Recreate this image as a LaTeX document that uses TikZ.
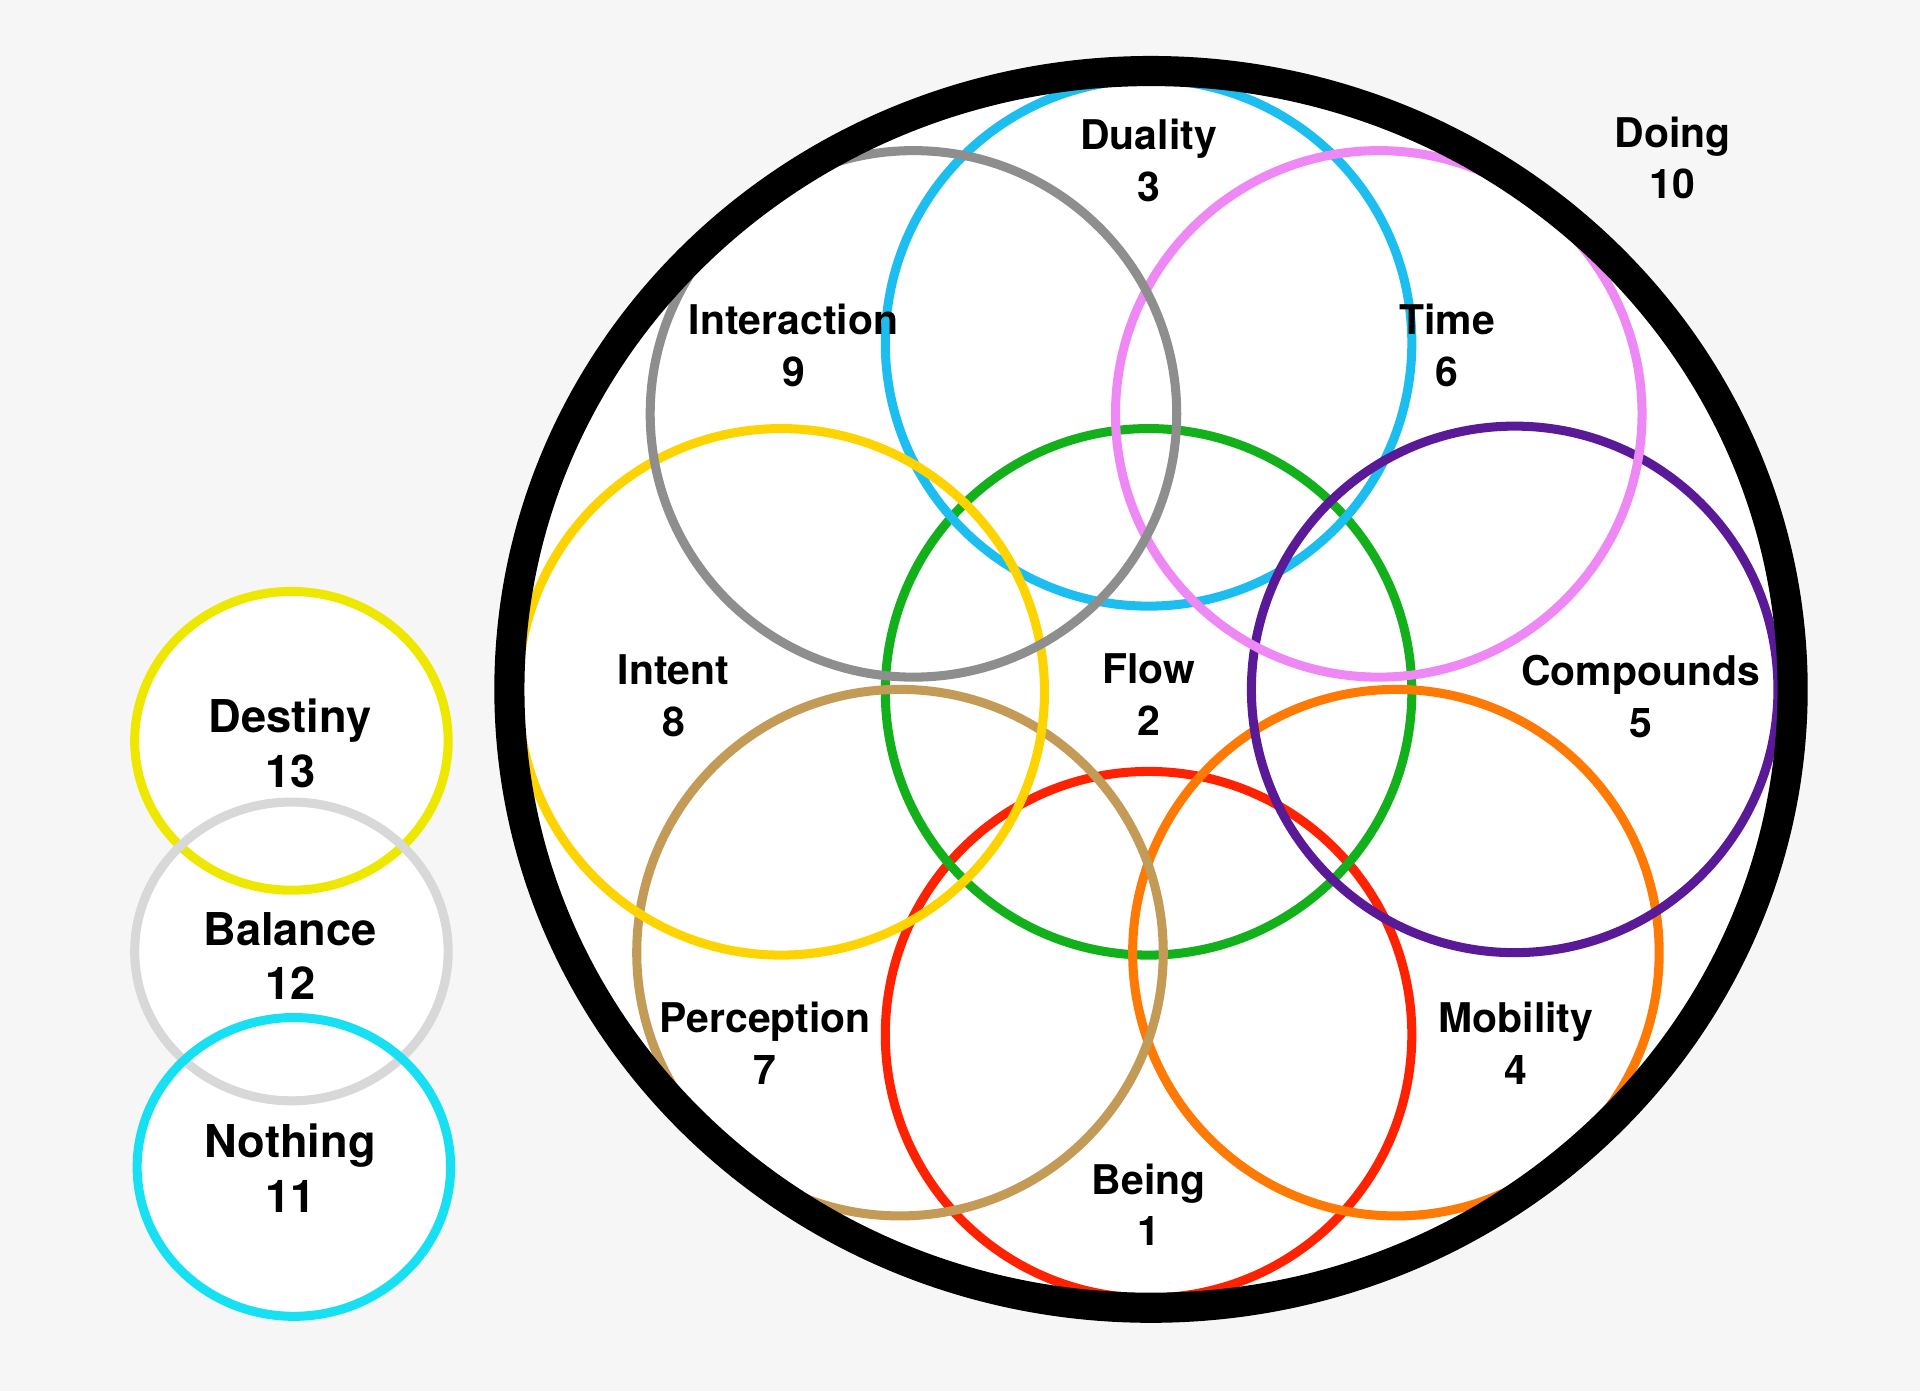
\documentclass[tikz,border=0pt]{standalone}
\usepackage{fontspec}
\setmainfont{TeX Gyre Heros}
\usepackage{tikz}
\definecolor{pageGray}{HTML}{F6F6F6}
\definecolor{dualityBlue}{HTML}{1CBEF0}
\definecolor{interactionGray}{HTML}{8E8E8E}
\definecolor{timePink}{HTML}{EE88F4}
\definecolor{intentGold}{HTML}{FDD300}
\definecolor{flowGreen}{HTML}{12B01A}
\definecolor{compoundsPurple}{HTML}{5A1A98}
\definecolor{perceptionTan}{HTML}{C39B56}
\definecolor{mobilityOrange}{HTML}{FF7A05}
\definecolor{beingRed}{HTML}{FF2200}
\definecolor{destinyYellow}{HTML}{EEE800}
\definecolor{balanceGray}{HTML}{D8D8D8}
\definecolor{nothingCyan}{HTML}{16E0F2}
\tikzset{
   petal/.style={draw=#1, line width=2.1pt},
   ring/.style={draw=black, line width=7pt},
   word/.style={font=\bfseries\fontsize{9.5}{12}\selectfont, align=center, inner sep=0pt},
   bigword/.style={font=\bfseries\fontsize{10.5}{12.6}\selectfont, align=center, inner sep=0pt},
    }
\begin{document}
\begin{tikzpicture}[x=0.01cm,y=-0.01cm]
        \fill[pageGray] (0,0) rectangle (1568,1136);
        \useasboundingbox (0,0) rectangle (1568,1136);

        % big circle
            \def \rx{524}
            \def \ry{505}
            \fill[white] (940,563) ellipse [x radius=\rx, y radius=\ry];
        % petals
        \foreach \cx/\cy/\col in {938/845/beingRed, 938/565/flowGreen, 938/280/dualityBlue,
            1140/778/mobilityOrange, 1237/563/compoundsPurple, 1126/338/timePink,
            735/778/perceptionTan, 638/565/intentGold, 746/338/interactionGray}
            \draw[petal=\col] (\cx,\cy) circle [radius=215];
        \draw[ring] (940,563) ellipse [x radius=\rx, y radius=\ry];

        % left column
        \foreach \cy in {605,777,953}
            \fill[white] (238,\cy) ellipse [x radius=128, y radius=122];
        \draw[petal=destinyYellow] (238,605) ellipse [x radius=128, y radius=122];
        \draw[petal=balanceGray] (238,777) ellipse [x radius=128, y radius=122];
        \draw[petal=nothingCyan] (240,953) ellipse [x radius=128, y radius=122];

        % names
        \node[word] (being) at (938,984) {Being\\1};
        \node[word] (flow) at (938,567) {Flow\\2};
        \node[word] (duality) at (938,131) {Duality\\3};
        \node[word] (mobility) at (1238,852) {Mobility\\4};
        \node[word] (compounds) at (1340,569) {Compounds\\5};
        \node[word] (time) at (1182,282) {Time\\6};
        \node[word] (perception) at (625,852) {Perception\\7};
        \node[word] (intent) at (550,568) {Intent\\8};
        \node[word] (interaction) at (648,282) {Interaction\\9};
        \node[word] (doing) at (1366,129) {Doing\\10};
        \node[bigword] (nothing) at (237,954) {Nothing\\11};
        \node[bigword] (balance) at (237,781) {Balance\\12};
        \node[bigword] (destiny) at (237,607) {Destiny\\13};

        \end{tikzpicture}
\end{document}
